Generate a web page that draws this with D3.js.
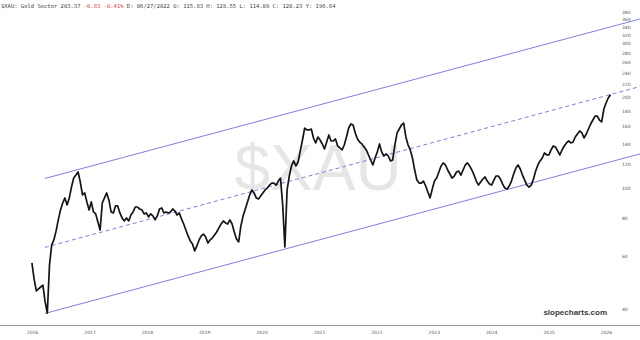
<!DOCTYPE html>
<html><head><meta charset="utf-8">
<script src="https://cdn.jsdelivr.net/npm/d3@7"></script>
<style>body{margin:0;background:#fff}svg{display:block}</style>
</head><body>
<svg id="c" width="640" height="340"></svg>
<script>
// ---- data ----
const startDate = "2015-10-16";   // first bar
const stepDays = 14;              // spacing of sampled closes
const closes = [
56.9,50.4,46.0,46.7,47.4,48.1,42.4,38.9,56.0,65.2,67.7,72.5,78.8,85.0,89.6,93.1,88.3,93.1,101.1,108.2,
110.7,113.3,105.0,95.2,96.7,90.3,85.0,90.3,83.7,82.5,77.6,73.0,89.6,93.1,96.7,91.7,83.7,83.1,87.6,87.6,
83.1,80.0,78.2,80.0,78.2,81.8,83.7,86.9,86.9,85.6,85.0,82.5,83.1,80.6,82.5,81.2,78.8,81.2,85.6,86.3,
83.1,83.7,83.1,83.7,85.6,84.3,81.8,83.1,79.4,76.4,73.0,69.8,67.2,65.7,62.3,64.7,67.7,69.8,70.8,69.2,
66.2,67.7,68.7,70.3,71.9,74.2,76.4,78.2,77.0,76.4,78.8,76.4,71.9,68.2,66.7,75.3,81.2,85.6,90.3,95.2,
98.9,96.7,93.1,92.4,94.5,96.7,98.9,100.3,102.6,104.2,104.2,102.6,105.8,108.2,88.3,64.2,98.9,109.9,118.6,123.2,
118.6,122.2,132.9,144.4,158.1,155.8,155.8,156.9,146.6,141.2,147.7,144.4,140.1,134.9,142.2,150.0,143.3,143.3,145.5,138.0,
135.9,133.9,139.0,147.7,158.1,163.0,161.8,152.3,145.5,142.2,140.1,136.9,133.9,128.9,124.1,119.5,126.0,131.9,140.1,131.9,
127.9,129.9,127.9,123.2,124.1,139.0,152.3,156.9,161.8,164.2,147.7,139.0,133.9,126.0,115.0,106.6,104.2,104.2,105.8,101.9,
97.4,93.1,99.6,105.8,108.2,113.3,118.6,121.3,119.5,115.0,111.6,108.2,109.9,113.3,114.1,110.7,115.0,119.5,121.3,118.6,
115.0,110.7,105.8,102.6,105.0,107.4,109.1,105.8,103.4,102.6,106.6,109.9,109.9,107.4,103.4,100.3,99.6,101.9,105.8,111.6,
116.8,119.5,115.9,110.7,106.6,102.6,101.1,102.6,107.4,114.1,119.5,123.2,126.0,130.9,128.9,128.9,133.9,138.0,136.9,132.9,
128.9,133.9,138.0,141.2,143.3,141.2,142.2,147.7,151.1,154.6,152.3,146.6,151.1,156.9,163.0,168.0,173.1,173.1,168.0,165.5,
182.6,191.1,198.5,203.4
];
const yearLabels = ["2016","2017","2018","2019","2020","2021","2022","2023","2024","2025","2026"];
const yTickValues = [40,60,80,100,120,140,160,180,200,220,240,260,280,300,320,340,360,380];
const channelDates = ["2016-01-07","2026-05-20"];
const channelUpper = [107.9, 361.1];
const channelMid = [64.0, 216.4];
const channelLower = [38.8, 129.9];
const titleParts = [
  {t:"$XAU: Gold Sector 203.37 ", c:"#444"},
  {t:"-0.83 -0.41%", c:"#e23b3b"},
  {t:" D: 06/27/2022 O: 115.83 H: 128.55 L: 114.09 C: 120.23 Y: 196.84", c:"#444"}
];

// ---- drawing ----
const svg = d3.select("#c");
const parse = d3.timeParse("%Y-%m-%d");
const start = parse(startDate);
const series = closes.map((v,i)=>({d:d3.timeDay.offset(start, i*stepDays), v}));

const x = d3.scaleTime().domain([new Date(2016,0,1), new Date(2026,0,1)]).range([44,618]);
const y = d3.scaleLog().domain([40,200]).range([309.4,97]);

svg.append("rect").attr("width",640).attr("height",340).attr("fill","#fff");

// watermark
svg.append("text").attr("x",318).attr("y",190).attr("text-anchor","middle")
  .attr("font-family","Liberation Sans, Arial, sans-serif").attr("font-size",64)
  .attr("fill","#e6e6e6").text("$XAU");

// x axis line
svg.append("line").attr("x1",0).attr("x2",640).attr("y1",325.5).attr("y2",325.5)
  .attr("stroke","#9a9a9a").attr("stroke-width",1);

const xAxis = d3.axisBottom(x)
  .tickValues(yearLabels.map(s=>new Date(+s,0,1)))
  .tickFormat(d3.timeFormat("%Y")).tickSize(0).tickPadding(6);
const gx = svg.append("g").attr("transform","translate(0,325)").call(xAxis);
gx.select(".domain").remove();
gx.selectAll("text").attr("dx",-12).attr("font-size",4.5)
  .attr("font-family","DejaVu Sans, sans-serif").attr("fill","#555");

const yAxis = d3.axisRight(y).tickValues(yTickValues).tickFormat(d3.format("d")).tickSize(0).tickPadding(0);
const gy = svg.append("g").attr("transform","translate(622,0)").call(yAxis);
gy.select(".domain").remove();
gy.selectAll("text").attr("font-size",4.5)
  .attr("font-family","DejaVu Sans, sans-serif").attr("fill","#555");

// channel
const cd = channelDates.map(parse);
const chan = (vals, dash) => svg.append("line")
  .attr("x1",x(cd[0])).attr("y1",y(vals[0])).attr("x2",x(cd[1])).attr("y2",y(vals[1]))
  .attr("stroke","#6f6fdc").attr("stroke-width",0.9)
  .attr("stroke-dasharray",dash ? "4,3" : null);
chan(channelUpper,false);
chan(channelMid,true);
chan(channelLower,false);

// price line
const line = d3.line().x(d=>x(d.d)).y(d=>y(d.v));
svg.append("path").datum(series).attr("d",line).attr("fill","none")
  .attr("stroke","#151515").attr("stroke-width",1.7).attr("stroke-linejoin","round");

// title
const tt = svg.append("text").attr("x",1).attr("y",8)
  .attr("font-family","DejaVu Sans Mono, monospace").attr("font-size",5.5);
titleParts.forEach(p=>tt.append("tspan").attr("fill",p.c).text(p.t));

// brand
svg.append("text").attr("x",607).attr("y",315).attr("text-anchor","end")
  .attr("font-family","Liberation Sans, Arial, sans-serif").attr("font-weight","bold")
  .attr("font-size",8).attr("fill","#3a3a3a").text("slopecharts.com");
</script>
</body></html>
